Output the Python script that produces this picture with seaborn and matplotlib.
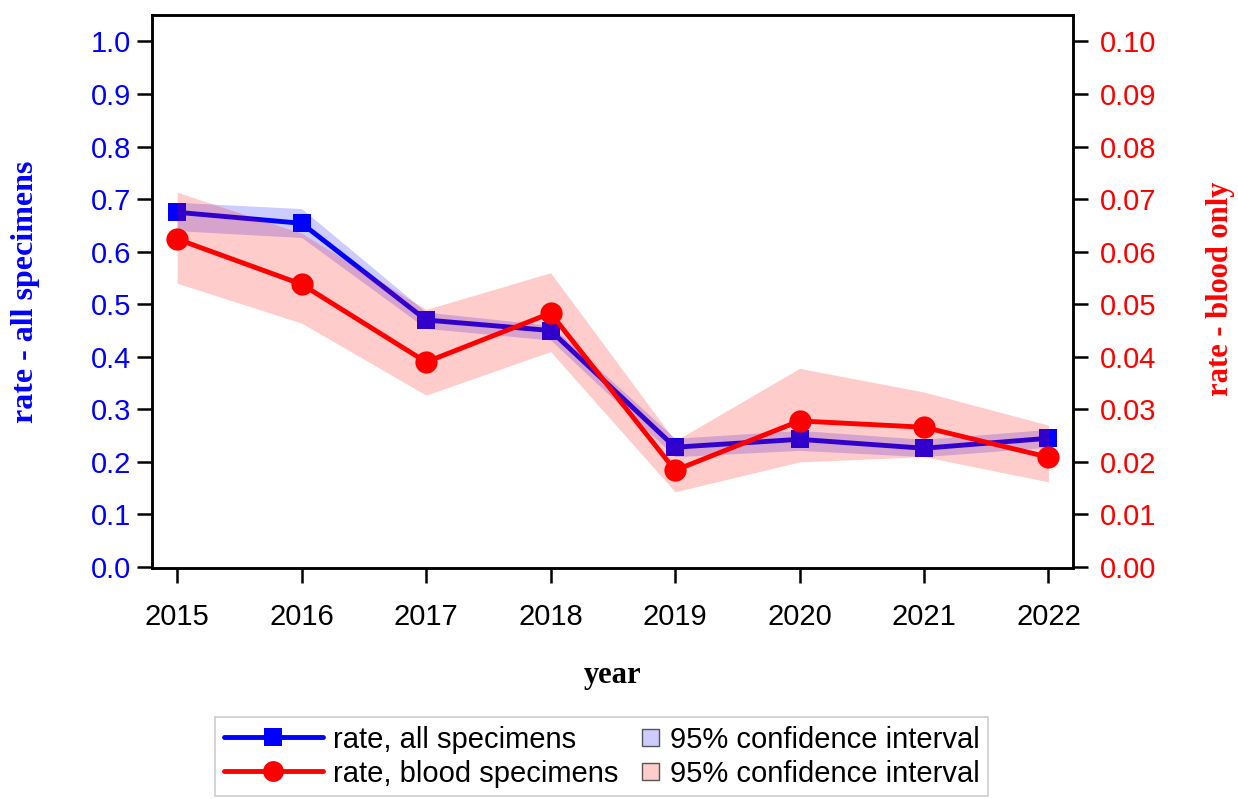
import pandas as pd
import matplotlib.pyplot as plt
import seaborn as sns
from matplotlib.lines import Line2D
from matplotlib.patches import Patch, Rectangle
from matplotlib.legend_handler import HandlerPatch

# values
years = [2015, 2016, 2017, 2018, 2019, 2020, 2021, 2022]
rate_all = [0.675, 0.654, 0.470, 0.450, 0.228, 0.243, 0.226, 0.245]
all_lo = [0.640, 0.627, 0.454, 0.432, 0.210, 0.222, 0.210, 0.228]
all_hi = [0.694, 0.682, 0.485, 0.460, 0.245, 0.260, 0.243, 0.262]
rate_blood = [0.0624, 0.0538, 0.0390, 0.0483, 0.0184, 0.0278, 0.0266, 0.0209]
blood_lo = [0.0540, 0.0464, 0.0327, 0.0410, 0.0143, 0.0200, 0.0210, 0.0162]
blood_hi = [0.0713, 0.0635, 0.0490, 0.0560, 0.0240, 0.0378, 0.0333, 0.0270]
left_ticks = [0.0, 0.1, 0.2, 0.3, 0.4, 0.5, 0.6, 0.7, 0.8, 0.9, 1.0]
right_ticks = [0.00, 0.01, 0.02, 0.03, 0.04, 0.05, 0.06, 0.07, 0.08, 0.09, 0.10]

df = pd.DataFrame({'year': years, 'all': rate_all, 'blood': rate_blood})

sns.set_style('ticks')
plt.rcParams['font.family'] = ['Liberation Sans', 'DejaVu Sans']
plt.rcParams['text.color'] = 'black'
plt.rcParams['axes.labelcolor'] = 'black'
plt.rcParams['xtick.color'] = 'black'
plt.rcParams['ytick.color'] = 'black'

fig = plt.figure(figsize=(12.38, 7.99), dpi=100)
ax = fig.add_axes([0.123, 0.289, 0.744, 0.692])

# all specimens (left axis)
ax.fill_between(years, all_lo, all_hi, color='blue', alpha=0.2, lw=0)
sns.lineplot(x='year', y='all', data=df, ax=ax, color='blue', lw=3.5,
             marker='s', markersize=13, markeredgewidth=0)

# blood specimens (right axis)
ax2 = ax.twinx()
ax2.fill_between(years, blood_lo, blood_hi, color='red', alpha=0.2, lw=0)
sns.lineplot(x='year', y='blood', data=df, ax=ax2, color='red', lw=3.5,
             marker='o', markersize=16, markeredgewidth=0)

ax.set_xlim(2014.8, 2022.2)
ax.set_ylim(-0.002, 1.05)
ax2.set_ylim(-0.0002, 0.105)
ax.set_xticks(years)
ax.set_xticklabels([str(y) for y in years])
ax.set_yticks(left_ticks)
ax.set_yticklabels([f'{t:.1f}' for t in left_ticks])
ax2.set_yticks(right_ticks)
ax2.set_yticklabels([f'{t:.2f}' for t in right_ticks])

ax.tick_params(axis='y', colors='black', labelcolor='blue', labelsize=21,
               length=11, width=1.8, pad=4)
ax.tick_params(axis='x', colors='black', labelsize=21, length=11, width=1.8, pad=14)
ax2.tick_params(axis='y', colors='black', labelcolor='red', labelsize=21,
                length=11, width=1.8, pad=8)
for a in (ax, ax2):
    for s in a.spines.values():
        s.set_linewidth(1.8)
        s.set_color('black')

serif = ['Liberation Serif', 'DejaVu Serif']
ax.set_xlabel('year', family=serif, fontweight='bold', fontsize=22,
              color='black', labelpad=22)
ax.set_ylabel('rate - all specimens', family=serif, fontweight='bold',
              fontsize=23, color='blue')
ax2.set_ylabel('rate - blood only', family=serif, fontweight='bold',
               fontsize=22, color='red')
ax.yaxis.set_label_coords(-0.122, 0.5)
ax2.yaxis.set_label_coords(1.144, 0.505)


def right_square(legend, orig_handle, xdescent, ydescent, width, height, fontsize):
    s = 0.6 * fontsize
    return Rectangle((width - xdescent - s, -ydescent + (height - s) / 2), s, s)


handles = [
    Line2D([], [], color='blue', lw=3.5, marker='s', markersize=13, markeredgewidth=0),
    Line2D([], [], color='red', lw=3.5, marker='o', markersize=15, markeredgewidth=0),
    Patch(facecolor='#ccccff', edgecolor='#555555', lw=1),
    Patch(facecolor='#ffcccc', edgecolor='#555555', lw=1),
]
labels = ['rate, all specimens', 'rate, blood specimens',
          '95% confidence interval', '95% confidence interval']
leg = fig.legend(handles, labels, ncol=2, loc='upper left',
                 bbox_to_anchor=(0.1737, 0.1026), fontsize=21, frameon=True,
                 fancybox=False, handlelength=3.4, handleheight=0.8,
                 columnspacing=-2.0, labelspacing=0.2, borderpad=0.3,
                 handletextpad=0.35, borderaxespad=0,
                 handler_map={Patch: HandlerPatch(patch_func=right_square)})
leg.get_frame().set_edgecolor('#c0c0c0')
leg.get_frame().set_linewidth(1.2)
for t in leg.get_texts():
    t.set_color('black')

fig.savefig('out.png', dpi=100)
